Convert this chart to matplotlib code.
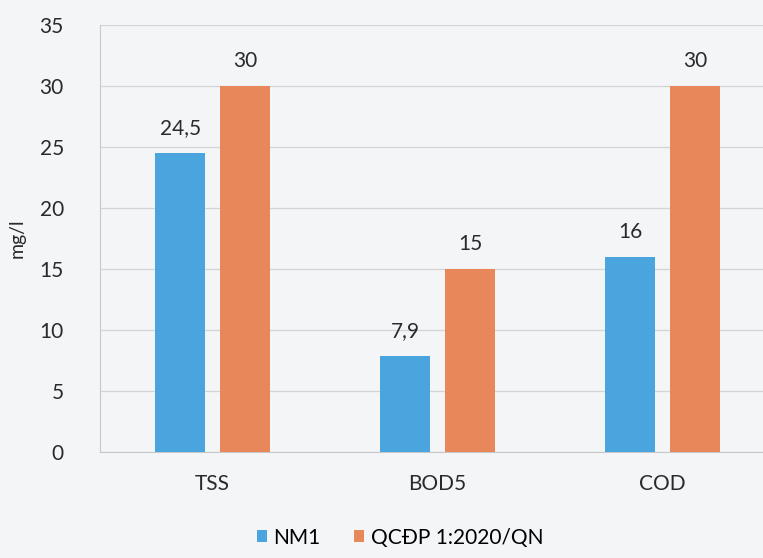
import numpy as np
import matplotlib.pyplot as plt

# Dữ liệu
categories = ['TSS', 'BOD5', 'COD']
nm1 = [24.5, 7.9, 16]
qcdp = [30, 15, 30]
nm1_labels = ['24,5', '7,9', '16']
qcdp_labels = ['30', '15', '30']

plt.rcParams['font.family'] = ['Lato', 'DejaVu Sans']

fig = plt.figure(figsize=(7.63, 5.58), dpi=100, facecolor='#f4f5f7')
ax = fig.add_axes([100 / 763, 1 - 452 / 558, 675 / 763, 427 / 558])
ax.set_facecolor('#f4f5f7')

x = np.arange(len(categories))
w = 0.222
off = 0.144
b1 = ax.bar(x - off, nm1, w, color='#4aa5de', label='NM1', zorder=3)
b2 = ax.bar(x + off, qcdp, w, color='#e8875a', label='QCĐP 1:2020/QN', zorder=3)

for rect, lab in zip(b1, nm1_labels):
    ax.text(rect.get_x() + rect.get_width() / 2, rect.get_height() + 1.2, lab,
            ha='center', va='bottom', fontsize=15, color='#2a2a2a')
for rect, lab in zip(b2, qcdp_labels):
    ax.text(rect.get_x() + rect.get_width() / 2, rect.get_height() + 1.2, lab,
            ha='center', va='bottom', fontsize=15, color='#2a2a2a')

ax.set_xlim(-0.5, 2.5)
ax.set_ylim(0, 35)
ax.set_yticks(range(0, 36, 5))
ax.set_xticks(x)
ax.set_xticklabels(categories)
ax.tick_params(axis='both', length=0, labelsize=15, colors='#2a2a2a')
ax.tick_params(axis='x', pad=16)
ax.tick_params(axis='y', pad=26)
ax.grid(axis='y', color='#d4d4d4', linewidth=0.9, zorder=0)
for s in ['top', 'right']:
    ax.spines[s].set_visible(False)
ax.spines['left'].set_color('#c8c8c8')
ax.spines['bottom'].set_color('#c8c8c8')

ax.set_ylabel('mg/l', fontsize=14, color='#2a2a2a', labelpad=10)

fig.legend(loc='lower center', bbox_to_anchor=(400 / 763, -0.015), ncol=2,
           frameon=False, fontsize=15, handlelength=0.5, handleheight=0.5,
           columnspacing=1.6, handletextpad=0.3)

plt.savefig('out.png', dpi=100, facecolor=fig.get_facecolor())
